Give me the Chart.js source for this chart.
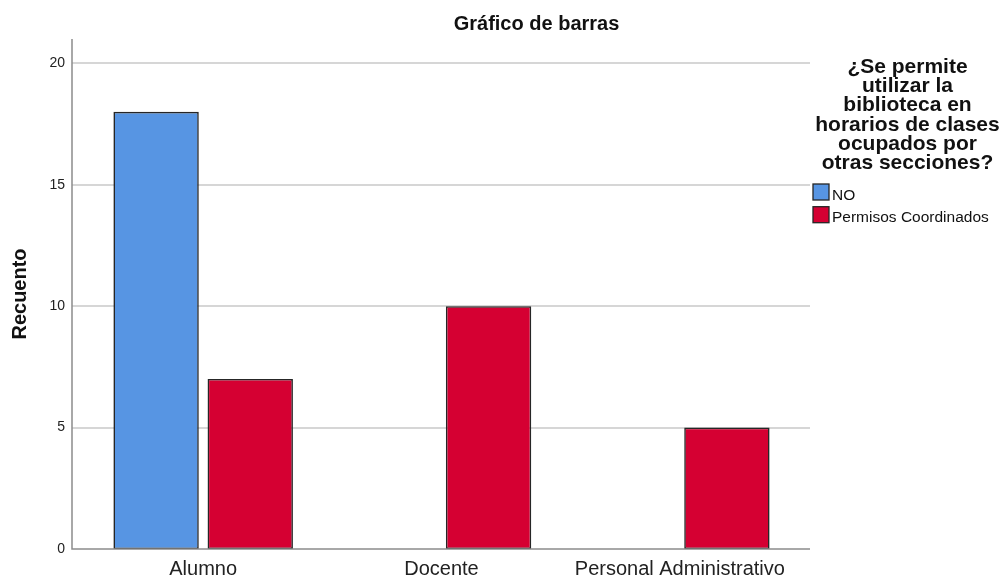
<!DOCTYPE html>
<html>
<head>
<meta charset="utf-8">
<title>Gráfico de barras</title>
<script src="https://cdn.jsdelivr.net/npm/chart.js@4.4.0/dist/chart.umd.min.js"></script>
<style>
  html, body { margin: 0; padding: 0; background: #fff; }
  canvas { display: block; }
</style>
</head>
<body>
<canvas id="barChart" width="1006" height="581"></canvas>
<script>
// data
const categories = ["Alumno", "Docente", "Personal Administrativo"];
const seriesNames = ["NO", "Permisos Coordinados"];
const noValues = [18, 0, 0];
const permisosValues = [7, 10, 5];
const yTicks = [0, 5, 10, 15, 20];
const seriesColors = ["#5795e3", "#d50032"];

const chartTitle = "Gráfico de barras";
const yTitle = "Recuento";
const legendTitle = ["¿Se permite", "utilizar la", "biblioteca en", "horarios de clases", "ocupados por", "otras secciones?"];

const FONT = "'Liberation Sans', Arial, sans-serif";
const OUTLINE = "#262626";

// gridlines, axis lines, title and legend drawn by hand (SPSS look)
const spssFrame = {
  id: "spssFrame",
  beforeDatasetsDraw(chart) {
    const ctx = chart.ctx;
    const area = chart.chartArea;
    const y = chart.scales.y;
    ctx.save();
    ctx.strokeStyle = "#c9c9c9";
    ctx.lineWidth = 1.5;
    yTicks.forEach(v => {
      if (v === 0) return;
      const py = Math.round(y.getPixelForValue(v));
      ctx.beginPath();
      ctx.moveTo(area.left - 12, py);
      ctx.lineTo(area.right + 11, py);
      ctx.stroke();
    });
    ctx.restore();
  },
  afterDatasetsDraw(chart) {
    const ctx = chart.ctx;
    const area = chart.chartArea;
    const y = chart.scales.y;
    const zero = Math.round(y.getPixelForValue(0));
    ctx.save();
    ctx.strokeStyle = "#8c8c8c";
    ctx.lineWidth = 1.5;
    ctx.beginPath();
    ctx.moveTo(area.left - 12, area.top);
    ctx.lineTo(area.left - 12, zero);
    ctx.lineTo(area.right + 11, zero);
    ctx.stroke();
    ctx.restore();
  },
  afterDraw(chart) {
    const ctx = chart.ctx;
    ctx.save();
    ctx.fillStyle = "#111";
    ctx.textBaseline = "alphabetic";

    // title
    ctx.textAlign = "center";
    ctx.font = "bold 20px " + FONT;
    ctx.fillText(chartTitle, 536.5, 30);

    // legend title
    ctx.font = "bold 21px " + FONT;
    legendTitle.forEach((line, i) => {
      ctx.fillText(line, 907.5, 73 + i * 19.2);
    });

    // legend items
    ctx.textAlign = "left";
    ctx.font = "15.5px " + FONT;
    seriesNames.forEach((name, i) => {
      const top = 184 + i * 22.7;
      ctx.fillStyle = seriesColors[i];
      ctx.fillRect(813, top, 16, 16);
      ctx.strokeStyle = OUTLINE;
      ctx.lineWidth = 1.3;
      ctx.strokeRect(813, top, 16, 16);
      ctx.fillStyle = "#111";
      ctx.fillText(name, 832, top + 15.5);
    });
    ctx.restore();
  }
};

const ctx = document.getElementById("barChart");

new Chart(ctx, {
  type: "bar",
  data: {
    labels: categories,
    datasets: [
      {
        label: seriesNames[0],
        data: noValues,
        backgroundColor: seriesColors[0],
        borderColor: OUTLINE,
        borderWidth: 1.6,
        borderSkipped: false
      },
      {
        label: seriesNames[1],
        data: permisosValues,
        backgroundColor: seriesColors[1],
        borderColor: OUTLINE,
        borderWidth: 1.6,
        borderSkipped: false
      }
    ]
  },
  options: {
    responsive: false,
    animation: false,
    events: [],
    categoryPercentage: 0.79,
    barPercentage: 0.907,
    layout: {
      padding: { top: 39, right: 207, bottom: 0, left: 0 }
    },
    plugins: {
      legend: { display: false },
      title: { display: false },
      tooltip: { enabled: false }
    },
    scales: {
      x: {
        grid: { display: false, drawTicks: false, tickLength: 0 },
        border: { display: false },
        ticks: {
          color: "#222",
          padding: 8,
          maxRotation: 0,
          font: { family: FONT, size: 20 }
        },
        afterFit(scale) { scale.height = 32; }
      },
      y: {
        min: 0,
        max: 21,
        grid: { display: false, drawTicks: false, tickLength: 0 },
        border: { display: false },
        ticks: {
          stepSize: 5,
          color: "#222",
          padding: 19,
          font: { family: FONT, size: 14 }
        },
        afterBuildTicks(scale) {
          scale.ticks = yTicks.map(v => ({ value: v }));
        },
        title: {
          display: true,
          text: yTitle,
          color: "#111",
          padding: { top: 8, bottom: 0 },
          font: { family: FONT, size: 20, weight: "bold" }
        },
        afterFit(scale) { scale.width = 84; }
      }
    }
  },
  plugins: [spssFrame]
});
</script>
</body>
</html>
